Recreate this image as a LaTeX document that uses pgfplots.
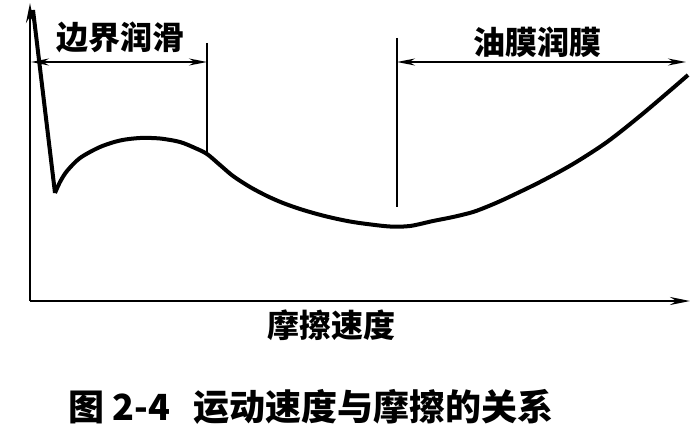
\documentclass[border=0pt]{standalone}
\usepackage{fontspec}
\usepackage{pgfplots}
\pgfplotsset{compat=1.18}
\usetikzlibrary{arrows.meta}
\newfontfamily\cjk{Noto Sans CJK SC}

\begin{document}
\begin{tikzpicture}
\begin{axis}[
    scale only axis,
    width=330pt, height=149pt,
    xmin=30, xmax=690,
    ymin=138, ymax=436,
    axis lines=left,
    axis line style={line width=1.2pt, -{Stealth[length=10pt,width=4pt]}},
    ticks=none,
    clip=false,
]
    % steep drop at start
    \addplot[line width=2pt, black, no markers, line join=round] coordinates {
        (33,429) (55,246)
    };
    % main curve (pixel positions, y = 439 - py)
    \addplot[line width=2pt, black, no markers, smooth, tension=0.5] coordinates {
        (55,246) (60,257) (67,268) (80,281) (100,292) (120,298.5) (140,301)
        (160,300.5) (180,297) (195,291) (207,285) (220,274) (233,263)
        (250,252) (267,243) (283,236) (300,230) (317,225) (333,221)
        (350,217.5) (367,215) (390,212.5) (410,213) (433,218) (453,222)
        (473,227) (490,233.5) (507,241) (540,257) (573,275) (607,297)
        (640,323) (673,351) (688,364)
    };

    % region markers
    \draw[line width=1pt] (axis cs:207,396) -- (axis cs:207,285);
    \draw[line width=1pt] (axis cs:397,401) -- (axis cs:397,232);
    \draw[line width=1pt, {Stealth[length=9pt,width=3.5pt]}-{Stealth[length=9pt,width=3.5pt]}]
        (axis cs:31,377) -- (axis cs:207,377);
    \draw[line width=1pt, {Stealth[length=9pt,width=3.5pt]}-{Stealth[length=9pt,width=3.5pt]}]
        (axis cs:397,377) -- (axis cs:686,377);

    \node[inner sep=0, font=\cjk\bfseries\fontsize{16}{16}\selectfont] at (axis cs:120,402) {边界润滑};
    \node[inner sep=0, font=\cjk\bfseries\fontsize{16}{16}\selectfont] at (axis cs:537,397) {油膜润膜};
    \node[inner sep=0, font=\cjk\bfseries\fontsize{16}{16}\selectfont] at (axis cs:331,114) {摩擦速度};

    \node[inner sep=0, anchor=west, font=\cjk\bfseries\fontsize{18}{18}\selectfont] at (axis cs:68,32) {图 2-4};
    \node[inner sep=0, anchor=west, font=\cjk\bfseries\fontsize{18}{18}\selectfont] at (axis cs:193,32) {运动速度与摩擦的关系};

    \path[use as bounding box] (axis cs:0,0) rectangle (axis cs:700,439);
\end{axis}
\end{tikzpicture}
\end{document}
